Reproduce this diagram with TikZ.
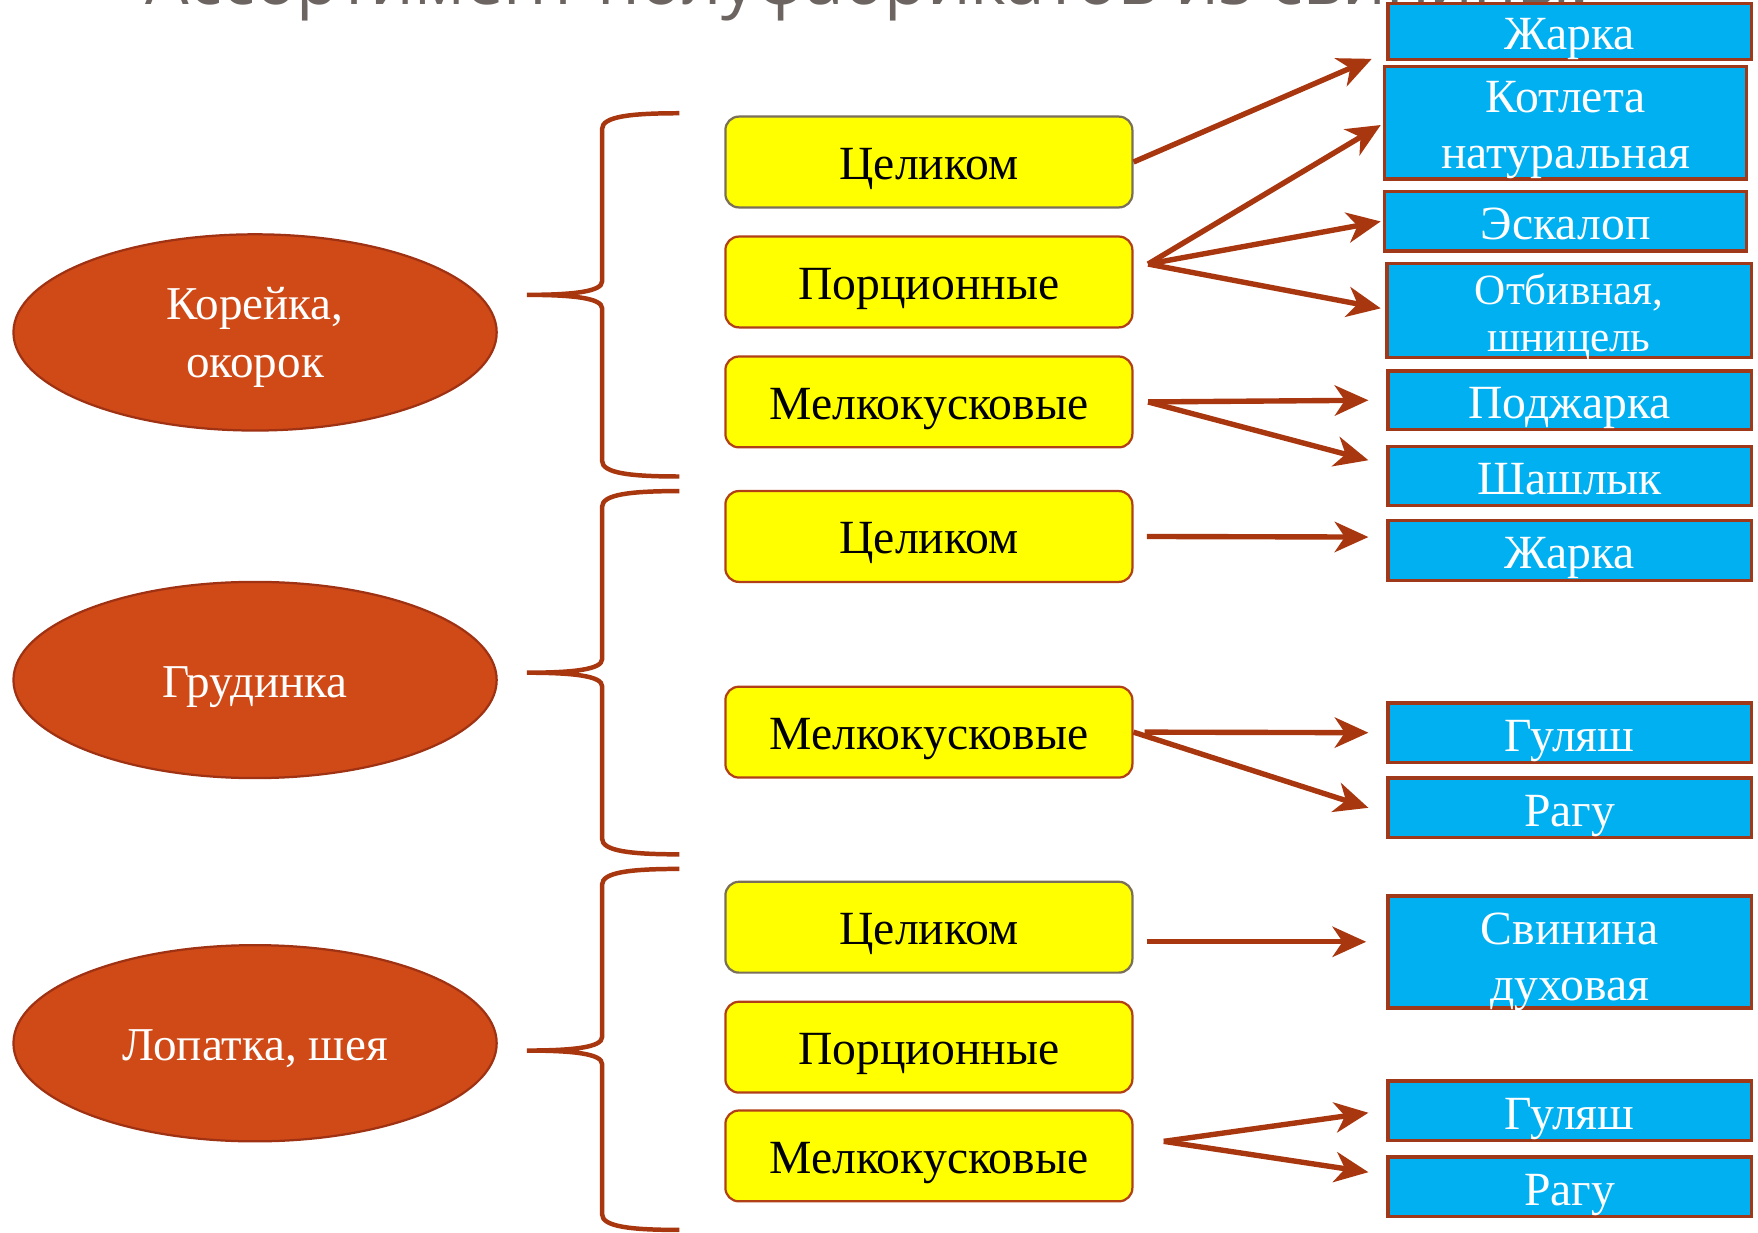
\documentclass[tikz,border=0pt]{standalone}
\usepackage{fontspec}
\setmainfont{Liberation Serif}
\newfontfamily\titlefont{Open Sans}
\usetikzlibrary{arrows.meta,shapes.geometric,calc}
\definecolor{brc}{RGB}{168,54,14}
\definecolor{ellfill}{RGB}{208,74,23}
\definecolor{ellbord}{RGB}{160,50,20}
\definecolor{yel}{RGB}{255,255,0}
\definecolor{yelbordA}{RGB}{122,112,90}
\definecolor{yelbordB}{RGB}{178,64,22}
\definecolor{blu}{RGB}{0,176,240}
\definecolor{blubord}{RGB}{160,56,26}
\definecolor{titlegray}{RGB}{107,100,97}
% text lowered a little inside its box, lines spaced by \baselineskip
\newcommand\lowtext[2][6pt]{\raisebox{-#1}[\height][\depth]{\begin{tabular}{@{}c@{}}#2\end{tabular}}}
\begin{document}
\begin{tikzpicture}[x=1pt,y=-1pt,
  part/.style={ellipse, fill=ellfill, draw=ellbord, line width=2pt,
    minimum width=431pt, minimum height=175pt, inner sep=0pt, text=white,
    font=\fontsize{42}{52}\selectfont},
  kind/.style={rectangle, rounded corners=12pt, fill=yel, draw=yelbordB, line width=2pt,
    minimum width=363pt, minimum height=81pt, inner sep=0pt,
    font=\fontsize{42.5}{48}\selectfont},
  kindgray/.style={kind, draw=yelbordA},
  dish/.style={rectangle, fill=blu, draw=blubord, line width=3pt,
    minimum width=324pt, inner sep=0pt, text=white,
    font=\fontsize{42.5}{50}\selectfont},
  arr/.style={draw=brc, line width=4.8pt, -{Stealth[length=30pt,width=27pt,inset=9pt]}},
  brace/.style={draw=brc, line width=4pt},
]
\useasboundingbox (0,0) rectangle (1568,1099);
\clip (0,0) rectangle (1568,1099);
\fill[white] (0,0) rectangle (1568,1099);

% title (cut off by the top edge)
\node[anchor=base west, inner sep=0pt, text=titlegray,
  font=\titlefont\fontsize{61.5}{62}\selectfont] (title) at (130,4)
  {Ассортимент полуфабрикатов из свинины.};

% parts
\node[part] (e1) at (227.5,296.5) {\lowtext[4pt]{Корейка,\\окорок}};
\node[part] (e2) at (227.5,606.5) {\lowtext[5pt]{Грудинка}};
\node[part] (e3) at (227.5,930.5) {\lowtext[5pt]{Лопатка, шея}};

% braces
\draw[brace] (606,101) .. controls (562,101) and (537,104) .. (537,115) -- (537,251)
  .. controls (537,260) and (512,263) .. (470,263) .. controls (512,263) and (537,266) .. (537,275)
  -- (537,411) .. controls (537,422) and (562,425) .. (606,425);
\draw[brace] (606,438) .. controls (562,438) and (537,441) .. (537,452) -- (537,588)
  .. controls (537,597) and (512,600) .. (470,600) .. controls (512,600) and (537,603) .. (537,612)
  -- (537,748) .. controls (537,759) and (562,762) .. (606,762);
\draw[brace] (606,775) .. controls (562,775) and (537,778) .. (537,789) -- (537,925)
  .. controls (537,934) and (512,937) .. (470,937) .. controls (512,937) and (537,940) .. (537,949)
  -- (537,1083) .. controls (537,1094) and (562,1097) .. (606,1097);

% kinds of cut
\node[kindgray] (y1) at (828.5,144.5) {\lowtext{Целиком}};
\node[kind] (y2) at (828.5,251.5) {\lowtext{Порционные}};
\node[kind] (y3) at (828.5,358.5) {\lowtext{Мелкокусковые}};
\node[kind] (y4) at (828.5,478.5) {\lowtext{Целиком}};
\node[kind] (y5) at (828.5,653) {\lowtext{Мелкокусковые}};
\node[kindgray] (y6) at (828.5,827) {\lowtext{Целиком}};
\node[kind] (y7) at (828.5,934) {\lowtext{Порционные}};
\node[kind] (y8) at (828.5,1031) {\lowtext{Мелкокусковые}};

% dishes
\node[dish, minimum height=44pt] (b1) at (1400,28) {\lowtext[6.5pt]{Жарка}};
\node[dish, minimum height=91pt, minimum width=323pt] (b2) at (1396.5,109.5) {\lowtext[5.5pt]{Котлета\\натуральная}};
\node[dish, minimum height=53pt, minimum width=323pt] (b3) at (1396.5,197.5) {\lowtext[6.5pt]{Эскалоп}};
\node[dish, minimum height=78pt, minimum width=325pt, font=\fontsize{38.5}{42}\selectfont] (b4) at (1399.5,277) {\lowtext[7.5pt]{Отбивная,\\шницель}};
\node[dish, minimum height=52pt] (b5) at (1400,357) {\lowtext[6.5pt]{Поджарка}};
\node[dish, minimum height=53pt] (b6) at (1400,424.5) {\lowtext[6.5pt]{Шашлык}};
\node[dish, minimum height=54pt] (b7) at (1400,491) {\lowtext[6.5pt]{Жарка}};
\node[dish, minimum height=53pt] (b8) at (1400,653.5) {\lowtext[6.5pt]{Гуляш}};
\node[dish, minimum height=53pt] (b9) at (1400,720.5) {\lowtext[6.5pt]{Рагу}};
\node[dish, minimum height=94pt] (b10) at (1400,849) {\lowtext[8pt]{Свинина\\духовая}};
\node[dish, minimum height=53pt] (b11) at (1400,990.5) {\lowtext[6.5pt]{Гуляш}};
\node[dish, minimum height=53pt] (b12) at (1400,1058.5) {\lowtext[6.5pt]{Рагу}};

% hubs
\coordinate (h2) at ([shift={(13,-16)}]y2.east);
\coordinate (h3) at ([shift={(13,0)}]y3.east);
\coordinate (h4) at ([shift={(12,0)}]y4.east);
\coordinate (h5) at ([shift={(10,0)}]y5.east);
\coordinate (h6) at ([shift={(12,13)}]y6.east);
\coordinate (h8) at ([shift={(27,-13)}]y8.east);

% arrows
\draw[arr] (y1.east) -- ([shift={(-13,-2)}]b1.south west);
\draw[arr] (h2) -- ([shift={(-2,2)}]b2.west);
\draw[arr] (h2) -- ([shift={(-2,0)}]b3.west);
\draw[arr] (h2) -- ([shift={(-4,-2)}]b4.west);
\draw[arr] (h3) -- ([shift={(-16,0)}]b5.west);
\draw[arr] (h3) -- ([shift={(-16,-14)}]b6.west);
\draw[arr] (h4) -- ([shift={(-16,-12)}]b7.west);
\draw[arr] (h5) -- ([shift={(-16,0)}]b8.west);
\draw[arr] (y5.east) -- ([shift={(-16,0)}]b9.west);
\draw[arr] (h6) -- ([shift={(-18,-9)}]b10.west);
\draw[arr] (h8) -- ([shift={(-16,2)}]b11.west);
\draw[arr] (h8) -- ([shift={(-16,-13)}]b12.west);
\end{tikzpicture}
\end{document}
